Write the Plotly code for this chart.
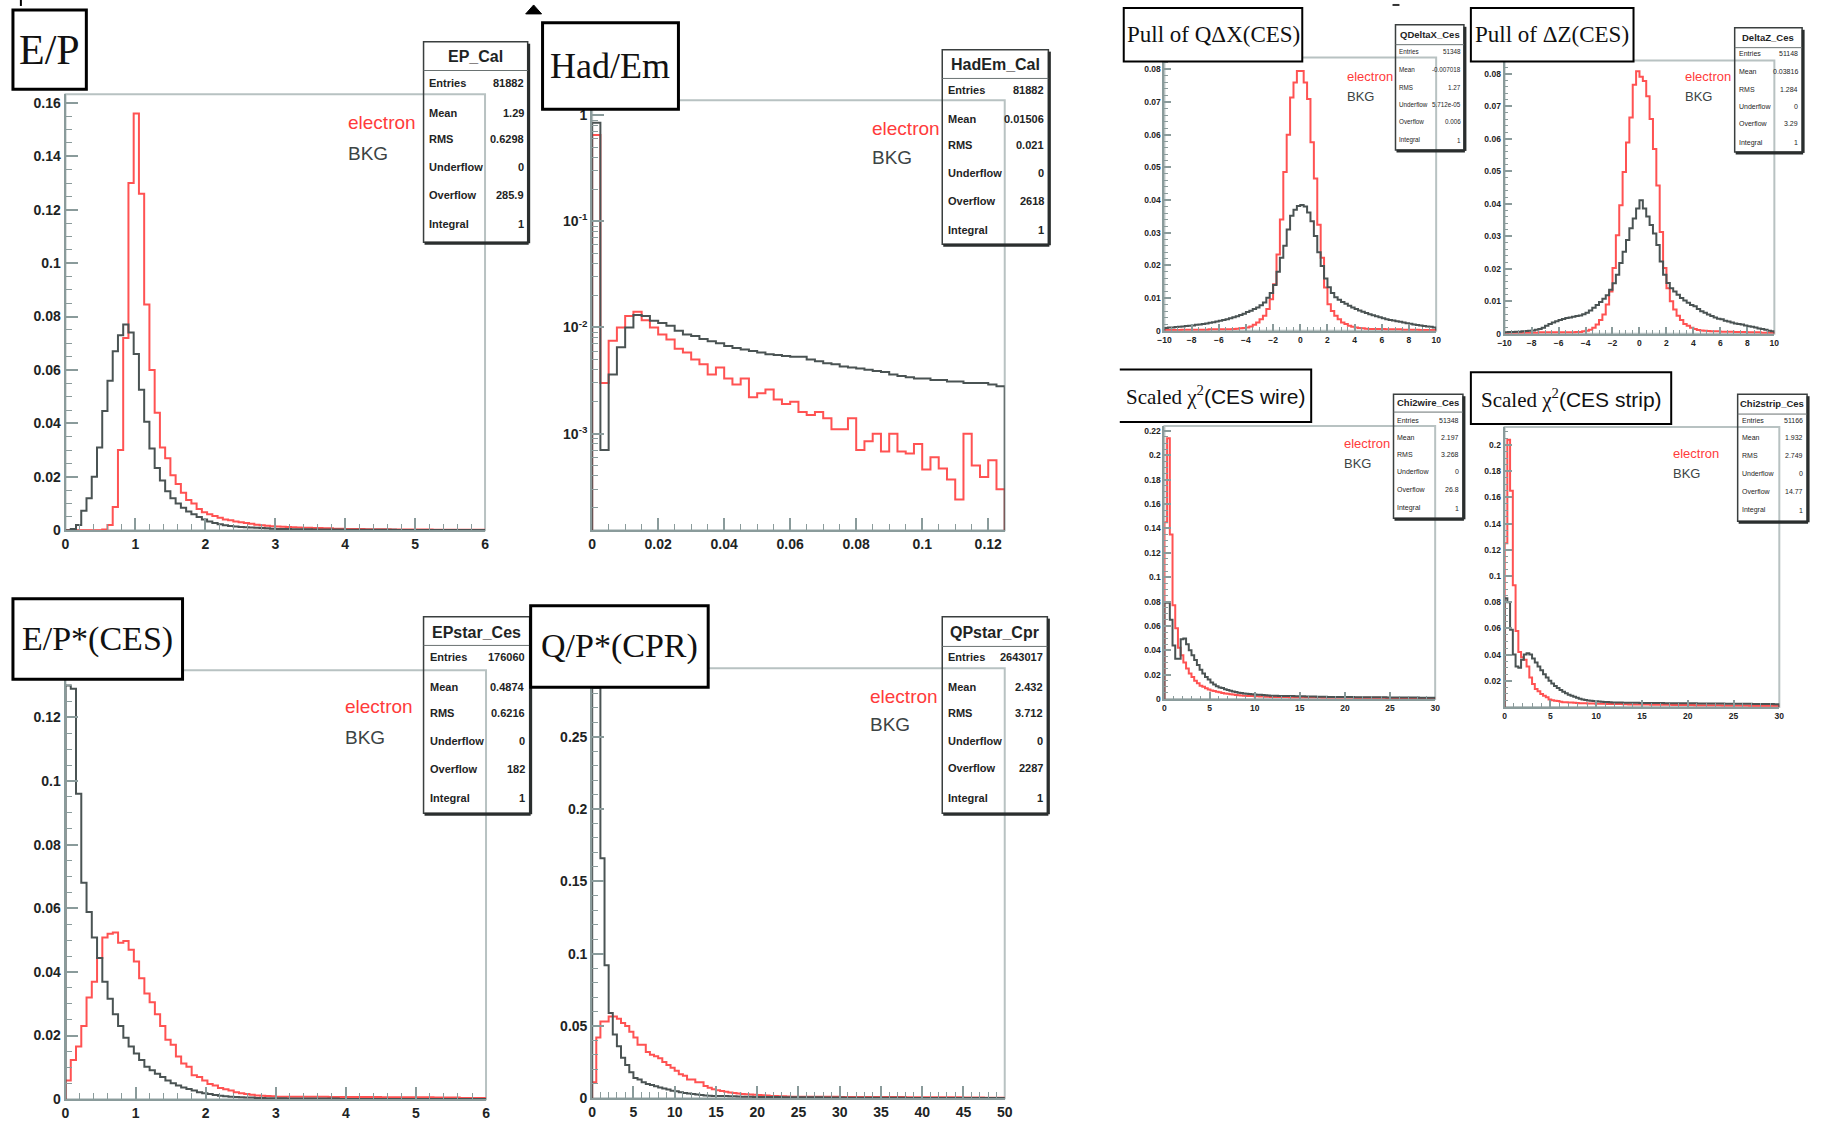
import numpy as np
import plotly.graph_objects as go

W, H = 1825, 1138

# ----------------------------- data -----------------------------
# E/P  (80 bins, 0..6)
ep_electron = [0, 0, 0, 0, 0, 0, 0, 0.0003, 0.002, 0.0087,
               0.030, 0.072, 0.130, 0.156, 0.126, 0.0845, 0.060, 0.044, 0.031, 0.027,
               0.0206, 0.0173, 0.014, 0.0113, 0.010, 0.008, 0.0067, 0.006, 0.0053, 0.0047,
               0.004, 0.0037, 0.0033, 0.003, 0.0027, 0.0024, 0.0021, 0.0019, 0.0017, 0.0015,
               0.0014, 0.0013, 0.0012, 0.0011, 0.001, 0.0009, 0.0009, 0.0008, 0.0008, 0.0007,
               0.0007, 0.0006, 0.0006, 0.0005, 0.0005, 0.0005, 0.0005, 0.0004, 0.0004, 0.0004,
               0.0004, 0.0004, 0.0003, 0.0003, 0.0003, 0.0003, 0.0003, 0.0003, 0.0003, 0.0003,
               0.0002, 0.0002, 0.0002, 0.0002, 0.0002, 0.0002, 0.0002, 0.0002, 0.0002, 0.0002]
ep_bkg = [0, 0.0005, 0.002, 0.0073, 0.012, 0.020, 0.031, 0.0446, 0.056, 0.067,
          0.073, 0.077, 0.074, 0.066, 0.0526, 0.0406, 0.0306, 0.0233, 0.0186, 0.0146,
          0.012, 0.010, 0.0084, 0.007, 0.006, 0.005, 0.004, 0.0033, 0.0027, 0.0022,
          0.0019, 0.0016, 0.0014, 0.0012, 0.0011, 0.001, 0.0009, 0.0008, 0.0007, 0.0006,
          0.0005, 0.0005, 0.0005, 0.0004, 0.0004, 0.0004, 0.0004, 0.0003, 0.0003, 0.0003,
          0.0003, 0.0003, 0.0003, 0.0002, 0.0002, 0.0002, 0.0002, 0.0002, 0.0002, 0.0002,
          0.0002, 0.0002, 0.0002, 0.0001, 0.0001, 0.0001, 0.0001, 0.0001, 0.0001, 0.0001,
          0.0001, 0.0001, 0.0001, 0.0001, 0.0001, 0.0001, 0.0001, 0.0001, 0.0001, 0.0001]

# Had/Em  (50 bins, 0..0.125, log y)
hadem_electron = [0.65, 0.003, 0.0075, 0.010, 0.0128, 0.0141, 0.0117, 0.0100, 0.0086, 0.0077,
                  0.0063, 0.0058, 0.0050, 0.0045, 0.0036, 0.0042, 0.0033, 0.0029, 0.0033, 0.0022,
                  0.0024, 0.0026, 0.0021, 0.0019, 0.0020, 0.0016, 0.0015, 0.0016, 0.0014, 0.0011,
                  0.0011, 0.0014, 0.0007, 0.00085, 0.0010, 0.00068, 0.0010, 0.00068, 0.00065, 0.0008,
                  0.00046, 0.0006, 0.00047, 0.00037, 0.00024, 0.0010, 0.0005, 0.00039, 0.00056, 0.0003]
hadem_bkg = [0.85, 0.0007, 0.0036, 0.0065, 0.010, 0.0131, 0.0128, 0.0116, 0.011, 0.0104,
             0.0093, 0.0086, 0.0083, 0.0078, 0.0074, 0.0071, 0.0067, 0.0064, 0.0062, 0.0060,
             0.0058, 0.0056, 0.0055, 0.0054, 0.0053, 0.0053, 0.0050, 0.0048, 0.0046, 0.0045,
             0.0043, 0.0042, 0.0041, 0.0040, 0.0039, 0.0038, 0.0036, 0.0035, 0.0034, 0.0033,
             0.0033, 0.0032, 0.0032, 0.0031, 0.0031, 0.0030, 0.0030, 0.0030, 0.0029, 0.0028]

# E/P*(CES)  (80 bins, 0..6)
epstar_electron = [0.0059, 0.0123, 0.0166, 0.023, 0.032, 0.0369, 0.0444, 0.0508, 0.052, 0.0524,
                   0.0492, 0.0497, 0.047, 0.0433, 0.038, 0.0332, 0.0305, 0.0267, 0.023, 0.0187,
                   0.0171, 0.0134, 0.0112, 0.0102, 0.0075, 0.007, 0.0059, 0.0048, 0.0043, 0.0035,
                   0.0031, 0.0027, 0.0022, 0.0019, 0.0016, 0.0014, 0.0012, 0.0011, 0.001, 0.0009,
                   0.0008, 0.0008, 0.0008, 0.0008, 0.0008, 0.0008, 0.0008, 0.0008, 0.0008, 0.0008,
                   0.0007, 0.0007, 0.0007, 0.0007, 0.0007, 0.0007, 0.0007, 0.0007, 0.0007, 0.0007,
                   0.0006, 0.0006, 0.0006, 0.0006, 0.0006, 0.0006, 0.0006, 0.0006, 0.0006, 0.0006,
                   0.0005, 0.0005, 0.0005, 0.0005, 0.0005, 0.0004, 0.0004, 0.0004, 0.0004, 0.0004]
epstar_bkg = [0.13, 0.129, 0.096, 0.068, 0.0588, 0.0508, 0.0444, 0.0369, 0.0316, 0.0267,
              0.023, 0.0193, 0.0166, 0.0144, 0.0123, 0.0102, 0.0091, 0.008, 0.007, 0.0059,
              0.005, 0.0043, 0.0037, 0.0032, 0.0027, 0.0022, 0.0019, 0.0016, 0.0013, 0.0011,
              0.0009, 0.0008, 0.0007, 0.0006, 0.0005, 0.0005, 0.0004, 0.0004, 0.0003, 0.0003,
              0.0003, 0.0003, 0.0002, 0.0002, 0.0002, 0.0002, 0.0002, 0.0002, 0.0002, 0.0002,
              0.0002, 0.0002, 0.0001, 0.0001, 0.0001, 0.0001, 0.0001, 0.0001, 0.0001, 0.0001,
              0.0001, 0.0001, 0.0001, 0.0001, 0.0001, 0.0001, 0.0001, 0.0001, 0.0001, 0.0001,
              0.0001, 0.0001, 0.0001, 0.0001, 0.0001, 0.0001, 0.0001, 0.0001, 0.0001, 0.0001]

# Q/P*(CPR)  (100 bins, 0..50)
qp_electron = [0.011, 0.042, 0.053, 0.053, 0.0565, 0.0565, 0.055, 0.052, 0.050, 0.046,
               0.042, 0.037, 0.037, 0.032, 0.030, 0.029, 0.0276, 0.025, 0.023, 0.021,
               0.019, 0.0165, 0.0156, 0.013, 0.013, 0.011, 0.011, 0.0085, 0.0072, 0.0062,
               0.0055, 0.005, 0.0045, 0.004, 0.0036, 0.0033, 0.003, 0.0028, 0.0026, 0.0024,
               0.0022, 0.002, 0.0018, 0.0016, 0.0015, 0.0014, 0.0013, 0.0012, 0.0011, 0.0011,
               0.001, 0.001, 0.001, 0.001, 0.001, 0.001, 0.001, 0.001, 0.001, 0.001,
               0.0009, 0.0009, 0.0009, 0.0009, 0.0009, 0.0009, 0.0009, 0.0009, 0.0008, 0.0008,
               0.0008, 0.0008, 0.0008, 0.0008, 0.0008, 0.0008, 0.0007, 0.0007, 0.0007, 0.0007,
               0.0007, 0.0007, 0.0007, 0.0007, 0.0006, 0.0006, 0.0006, 0.0006, 0.0006, 0.0006,
               0.0005, 0.0005, 0.0005, 0.0005, 0.0005, 0.0004, 0.0004, 0.0004, 0.0004, 0.0004]
qp_bkg = [0.284, 0.284, 0.166, 0.092, 0.059, 0.044, 0.036, 0.028, 0.023, 0.018,
          0.014, 0.013, 0.011, 0.0098, 0.0092, 0.0082, 0.0074, 0.0068, 0.006, 0.0052,
          0.0048, 0.0042, 0.0037, 0.0032, 0.0029, 0.0026, 0.0022, 0.0019, 0.0017, 0.0016,
          0.0015, 0.0016, 0.0015, 0.0014, 0.0013, 0.0012, 0.0011, 0.001, 0.001, 0.0009,
          0.0009, 0.0008, 0.0008, 0.0008, 0.0008, 0.0008, 0.0007, 0.0007, 0.0007, 0.0007,
          0.0007, 0.0006, 0.0006, 0.0006, 0.0006, 0.0006, 0.0005, 0.0005, 0.0005, 0.0005,
          0.0005, 0.0004, 0.0004, 0.0004, 0.0004, 0.0004, 0.0003, 0.0003, 0.0003, 0.0003,
          0.0003, 0.0003, 0.0003, 0.0003, 0.0003, 0.0003, 0.0002, 0.0002, 0.0002, 0.0002,
          0.0002, 0.0002, 0.0002, 0.0002, 0.0002, 0.0002, 0.0001, 0.0001, 0.0001, 0.0001,
          0.0001, 0.0001, 0.0001, 0.0001, 0.0001, 0.0001, 0.0001, 0.0001, 0.0001, 0.0001]

# Pull of Q dX (CES)  (80 bins, -10..10)
qdx_electron = [0.0002, 0.0002, 0.0002, 0.0002, 0.0002, 0.0003, 0.0003, 0.0003, 0.0003, 0.0003,
                0.0003, 0.0003, 0.0003, 0.0004, 0.0004, 0.0004, 0.0004, 0.0004, 0.0004, 0.0004,
                0.0005, 0.0006, 0.0007, 0.0008, 0.001, 0.0013, 0.0018, 0.0025, 0.0035, 0.0046,
                0.0066, 0.0096, 0.0142, 0.0233, 0.034, 0.0486, 0.060, 0.0714, 0.076, 0.0795,
                0.0795, 0.076, 0.0709, 0.0577, 0.0466, 0.0324, 0.0223, 0.0132, 0.0081, 0.006,
                0.0046, 0.0035, 0.0025, 0.002, 0.0015, 0.0012, 0.001, 0.0008, 0.0007, 0.0006,
                0.0005, 0.0005, 0.0005, 0.0005, 0.0005, 0.0004, 0.0004, 0.0004, 0.0004, 0.0004,
                0.0003, 0.0003, 0.0003, 0.0003, 0.0003, 0.0002, 0.0002, 0.0002, 0.0002, 0.0002]
qdx_bkg = [0.0008, 0.001, 0.001, 0.0011, 0.0012, 0.0013, 0.0014, 0.0015, 0.0016, 0.0018,
           0.0019, 0.002, 0.0022, 0.0024, 0.0026, 0.0028, 0.003, 0.0033, 0.0035, 0.0038,
           0.0041, 0.0044, 0.0048, 0.0052, 0.0057, 0.0061, 0.0066, 0.0071, 0.0078, 0.0086,
           0.0101, 0.0115, 0.014, 0.018, 0.0223, 0.026, 0.031, 0.0352, 0.037, 0.0382,
           0.0385, 0.038, 0.0362, 0.0335, 0.029, 0.024, 0.0198, 0.016, 0.0133, 0.0115,
           0.0102, 0.0095, 0.0088, 0.0082, 0.0076, 0.0071, 0.0066, 0.0062, 0.0058, 0.0054,
           0.005, 0.0047, 0.0044, 0.0041, 0.0038, 0.0035, 0.0033, 0.0031, 0.0029, 0.0027,
           0.0025, 0.0023, 0.0021, 0.0019, 0.0017, 0.0016, 0.0014, 0.0013, 0.0012, 0.001]

# Pull of dZ (CES)  (80 bins, -10..10)
dz_electron = [0.0003, 0.0003, 0.0003, 0.0003, 0.0003, 0.0003, 0.0003, 0.0003, 0.0003, 0.0003,
               0.0004, 0.0004, 0.0004, 0.0004, 0.0004, 0.0004, 0.0004, 0.0004, 0.0004, 0.0004,
               0.0004, 0.0005, 0.0005, 0.0007, 0.0009, 0.0012, 0.0018, 0.0028, 0.0042, 0.0059,
               0.009, 0.013, 0.0202, 0.0303, 0.0395, 0.0497, 0.0588, 0.0665, 0.0766, 0.0807,
               0.079, 0.0777, 0.073, 0.066, 0.0568, 0.0456, 0.0313, 0.0202, 0.014, 0.01,
               0.0074, 0.0055, 0.0042, 0.003, 0.0024, 0.0018, 0.0014, 0.0011, 0.001, 0.0009,
               0.0008, 0.0007, 0.0007, 0.0007, 0.0006, 0.0006, 0.0006, 0.0006, 0.0005, 0.0005,
               0.0005, 0.0005, 0.0004, 0.0004, 0.0004, 0.0004, 0.0003, 0.0003, 0.0003, 0.0003]
dz_bkg = [0.0004, 0.0005, 0.0005, 0.0006, 0.0006, 0.0007, 0.0008, 0.0009, 0.001, 0.0012,
          0.0014, 0.0018, 0.0024, 0.003, 0.0034, 0.0038, 0.0042, 0.0045, 0.0048, 0.005,
          0.0052, 0.0054, 0.0056, 0.006, 0.0064, 0.0071, 0.008, 0.0088, 0.0097, 0.0107,
          0.0118, 0.0135, 0.0155, 0.0181, 0.0217, 0.0252, 0.0288, 0.0324, 0.0354, 0.0385,
          0.041, 0.0385, 0.036, 0.0334, 0.0308, 0.0273, 0.0222, 0.0181, 0.0156, 0.014,
          0.013, 0.012, 0.011, 0.0102, 0.0095, 0.0088, 0.0084, 0.0076, 0.0069, 0.0064,
          0.0059, 0.0054, 0.005, 0.0046, 0.0044, 0.004, 0.0037, 0.0034, 0.0031, 0.003,
          0.0028, 0.0025, 0.0023, 0.0021, 0.0019, 0.0016, 0.0014, 0.0012, 0.0009, 0.0007]

# Scaled chi2 (CES wire)  (100 bins, 0..30)
wire_electron = [0.145, 0.214, 0.135, 0.077, 0.058, 0.042, 0.036, 0.030, 0.025, 0.021,
                 0.018, 0.015, 0.013, 0.011, 0.010, 0.0088, 0.0078, 0.007, 0.0065, 0.006,
                 0.0055, 0.005, 0.0046, 0.0043, 0.004, 0.0037, 0.0034, 0.0032, 0.003, 0.0028,
                 0.0026, 0.0025, 0.0024, 0.0023, 0.0022, 0.0021, 0.002, 0.0019, 0.0018, 0.0017,
                 0.0016, 0.0016, 0.0016, 0.0016, 0.0016, 0.0016, 0.0015, 0.0015, 0.0015, 0.0015,
                 0.0015, 0.0015, 0.0014, 0.0014, 0.0014, 0.0014, 0.0014, 0.0014, 0.0013, 0.0013,
                 0.0013, 0.0013, 0.0013, 0.0013, 0.0012, 0.0012, 0.0012, 0.0012, 0.0012, 0.0012,
                 0.0011, 0.0011, 0.0011, 0.0011, 0.0011, 0.0011, 0.001, 0.001, 0.001, 0.001,
                 0.001, 0.001, 0.0009, 0.0009, 0.0009, 0.0009, 0.0009, 0.0009, 0.0008, 0.0008,
                 0.0008, 0.0008, 0.0008, 0.0008, 0.0007, 0.0007, 0.0007, 0.0006, 0.0006, 0.0006]
wire_bkg = [0.079, 0.079, 0.065, 0.044, 0.033, 0.033, 0.049, 0.0497, 0.045, 0.040,
            0.036, 0.032, 0.028, 0.024, 0.021, 0.018, 0.016, 0.0135, 0.012, 0.0105,
            0.0095, 0.009, 0.008, 0.0075, 0.0068, 0.0062, 0.0057, 0.0052, 0.0049, 0.0046,
            0.0043, 0.0041, 0.0039, 0.0037, 0.0036, 0.0035, 0.0033, 0.0031, 0.003, 0.0028,
            0.0027, 0.0027, 0.0026, 0.0026, 0.0025, 0.0025, 0.0024, 0.0024, 0.0023, 0.0023,
            0.0022, 0.0022, 0.0021, 0.0021, 0.002, 0.002, 0.0019, 0.0019, 0.0018, 0.0018,
            0.0017, 0.0017, 0.0016, 0.0016, 0.0016, 0.0016, 0.0016, 0.0016, 0.0016, 0.0016,
            0.0015, 0.0015, 0.0015, 0.0015, 0.0015, 0.0015, 0.0014, 0.0014, 0.0014, 0.0014,
            0.0014, 0.0014, 0.0013, 0.0013, 0.0013, 0.0013, 0.0013, 0.0013, 0.0012, 0.0012,
            0.0012, 0.0012, 0.0012, 0.0012, 0.0011, 0.0011, 0.0011, 0.001, 0.001, 0.001]

# Scaled chi2 (CES strip)  (100 bins, 0..30)
strip_electron = [0.125, 0.204, 0.165, 0.093, 0.058, 0.042, 0.038, 0.036, 0.031, 0.0225,
                  0.0175, 0.0137, 0.012, 0.0099, 0.0085, 0.0074, 0.0058, 0.0052, 0.0048, 0.0045,
                  0.004, 0.0037, 0.0036, 0.0035, 0.0034, 0.0033, 0.003, 0.0029, 0.0028, 0.0028,
                  0.0027, 0.0027, 0.0026, 0.0025, 0.0025, 0.0024, 0.0024, 0.0023, 0.0023, 0.0023,
                  0.0022, 0.0022, 0.0022, 0.0021, 0.0021, 0.002, 0.002, 0.002, 0.002, 0.0019,
                  0.0019, 0.0019, 0.0019, 0.0018, 0.0018, 0.0018, 0.0018, 0.0017, 0.0017, 0.0017,
                  0.0017, 0.0016, 0.0016, 0.0016, 0.0016, 0.0015, 0.0015, 0.0015, 0.0015, 0.0014,
                  0.0014, 0.0014, 0.0014, 0.0014, 0.0013, 0.0013, 0.0013, 0.0013, 0.0013, 0.0012,
                  0.0012, 0.0012, 0.0012, 0.0012, 0.0011, 0.0011, 0.0011, 0.0011, 0.0011, 0.001,
                  0.001, 0.001, 0.001, 0.001, 0.0009, 0.0009, 0.0009, 0.0009, 0.0009, 0.0009]
strip_bkg = [0.083, 0.080, 0.059, 0.040, 0.031, 0.030, 0.036, 0.040, 0.041, 0.040,
             0.037, 0.034, 0.031, 0.028, 0.025, 0.0225, 0.020, 0.018, 0.016, 0.0145,
             0.013, 0.0117, 0.0105, 0.0093, 0.0085, 0.0078, 0.007, 0.0063, 0.0058, 0.0054,
             0.005, 0.0048, 0.0046, 0.0044, 0.0042, 0.004, 0.0039, 0.0038, 0.0036, 0.0035,
             0.0034, 0.0034, 0.0034, 0.0033, 0.0033, 0.0033, 0.0032, 0.0032, 0.0032, 0.0031,
             0.0031, 0.0031, 0.0031, 0.003, 0.003, 0.003, 0.003, 0.003, 0.0029, 0.0029,
             0.0029, 0.0029, 0.0029, 0.0029, 0.0028, 0.0028, 0.0028, 0.0028, 0.0028, 0.0028,
             0.0027, 0.0027, 0.0027, 0.0027, 0.0027, 0.0026, 0.0026, 0.0026, 0.0026, 0.0026,
             0.0025, 0.0025, 0.0025, 0.0025, 0.0025, 0.0024, 0.0024, 0.0024, 0.0024, 0.0024,
             0.0023, 0.0023, 0.0023, 0.0023, 0.0023, 0.0022, 0.0022, 0.0022, 0.0021, 0.0021]

stat_labels = ["Entries", "Mean", "RMS", "Underflow", "Overflow", "Integral"]
ep_stats = ["81882", "1.29", "0.6298", "0", "285.9", "1"]
hadem_stats = ["81882", "0.01506", "0.021", "0", "2618", "1"]
epstar_stats = ["176060", "0.4874", "0.6216", "0", "182", "1"]
qp_stats = ["2643017", "2.432", "3.712", "0", "2287", "1"]
qdx_stats = ["51348", "-0.007018", "1.27", "5.712e-05", "0.006", "1"]
dz_stats = ["51148", "0.03816", "1.284", "0", "3.29", "1"]
wire_stats = ["51348", "2.197", "3.268", "0", "26.8", "1"]
strip_stats = ["51166", "1.932", "2.749", "0", "14.77", "1"]

hadem_tickvals = [0.001, 0.01, 0.1, 1]
hadem_ticktext = ["10<sup>-3</sup>", "10<sup>-2</sup>", "10<sup>-1</sup>", "1"]
strip_ytickvals = [0.02, 0.04, 0.06, 0.08, 0.1, 0.12, 0.14, 0.16, 0.18, 0.2]

# ----------------------------- style -----------------------------
RED = "#ff5252"
GRAY = "#4a5353"
AXIS = "#8a9b9b"
FRAME = "#b8c2c2"
TXT = "#1e2424"
SANS = "Liberation Sans, Arial, Helvetica, sans-serif"
SERIF = "Liberation Serif, Times New Roman, serif"


def PX(x):
    return x / W


def PY(y):
    return 1 - y / H


panels = [
    dict(ele=ep_electron, bkg=ep_bkg, lo=0, bw=0.075, frame=(59, 482, 95, 534),
         xr=[0, 6], yr=[0, 0.1632], xdt=1, xmn=0.2, ydt=0.02, ymn=0.005, fs=14, tl=12,
         title="E/P", tbox=(6, 80, 10, 90), tfs=42, tlw=3,
         sname="EP_Cal", svals=ep_stats, sbox=(420, 525, 42, 244), sty=57, ssep=71,
         srows=[84, 114, 140, 168, 196, 226], slab=423, sval=523, sfs=11, stfs=16, sbold=True,
         leg=(342, 123, 155), lfs=19),
    dict(ele=hadem_electron, bkg=hadem_bkg, lo=0, bw=0.0025, frame=(590, 1006, 101, 534),
         xr=[0, 0.125], yr=[-3.91, 0.14], log=True, xdt=0.02, xmn=0.005, fs=14, tl=12,
         title="Had/Em", tbox=(540, 677, 23, 110), tfs=36, tlw=3,
         sname="HadEm_Cal", svals=hadem_stats, sbox=(943, 1050, 50, 246), sty=65, ssep=79,
         srows=[91, 120, 146, 174, 202, 232], slab=947, sval=1048, sfs=11, stfs=16, sbold=True,
         leg=(870, 129, 159), lfs=19),
    dict(ele=epstar_electron, bkg=epstar_bkg, lo=0, bw=0.075, frame=(59, 483, 675, 1107),
         xr=[0, 6], yr=[0, 0.1348], xdt=1, xmn=0.2, ydt=0.02, ymn=0.005, fs=14, tl=12,
         title="E/P*(CES)", tbox=(6, 177, 603, 684), tfs=34, tlw=3,
         sname="EPstar_Ces", svals=epstar_stats, sbox=(420, 527, 621, 819), sty=637, ssep=650,
         srows=[662, 692, 718, 746, 774, 804], slab=424, sval=524, sfs=11, stfs=16, sbold=True,
         leg=(339, 712, 743), lfs=19),
    dict(ele=qp_electron, bkg=qp_bkg, lo=0, bw=0.5, frame=(590, 1006, 673, 1106),
         xr=[0, 50], yr=[0, 0.2974], xdt=5, xmn=1, ydt=0.05, ymn=0.01, fs=14, tl=12,
         title="Q/P*(CPR)", tbox=(528, 707, 610, 692), tfs=34, tlw=3,
         sname="QPstar_Cpr", svals=qp_stats, sbox=(943, 1049, 621, 819), sty=637, ssep=651,
         srows=[662, 692, 718, 746, 773, 804], slab=947, sval=1047, sfs=11, stfs=16, sbold=True,
         leg=(868, 701, 730), lfs=19),
    dict(ele=qdx_electron, bkg=qdx_bkg, lo=-10, bw=0.25, frame=(1167, 1441, 58, 333),
         xr=[-10, 10], yr=[0, 0.0836], xdt=2, xmn=0.5, ydt=0.01, ymn=0.002, fs=8.5, tl=7,
         title="Pull of QΔX(CES)", tbox=(1126, 1306, 8, 62), tfs=23, tlw=2,
         sname="QDeltaX_Ces", svals=qdx_stats, sbox=(1400, 1469, 25, 151), sty=35, ssep=45,
         srows=[52, 70, 88, 105, 122, 141], slab=1402, sval=1468, sfs=6.3, stfs=9.5,
         leg=(1349, 77, 97), lfs=13),
    dict(ele=dz_electron, bkg=dz_bkg, lo=-10, bw=0.25, frame=(1510, 1782, 61, 336),
         xr=[-10, 10], yr=[0, 0.084], xdt=2, xmn=0.5, ydt=0.01, ymn=0.002, fs=8.5, tl=7,
         title="Pull of ΔZ(CES)", tbox=(1476, 1640, 8, 62), tfs=23, tlw=2,
         sname="DeltaZ_Ces", svals=dz_stats, sbox=(1742, 1810, 28, 153), sty=38, ssep=48,
         srows=[54, 72, 90, 107, 124, 144], slab=1744, sval=1808, sfs=7, stfs=9.5,
         leg=(1690, 77, 97), lfs=13),
    dict(ele=wire_electron, bkg=wire_bkg, lo=0, bw=0.3, frame=(1167, 1440, 429, 704),
         xr=[0, 30], yr=[0, 0.224], xdt=5, xmn=1, ydt=0.02, ymn=0.005, fs=8.5, tl=7,
         title="Scaled χ<sup>2</sup><span style='font-family:Liberation Sans, Arial, sans-serif'>(CES wire)</span>",
         tbox=(1122, 1315, 372, 425), tfs=21, tlw=2, openleft=True,
         sname="Chi2wire_Ces", svals=wire_stats, sbox=(1398, 1468, 397, 522), sty=405, ssep=415,
         srows=[423, 441, 458, 475, 493, 512], slab=1400, sval=1466, sfs=7, stfs=9.5,
         leg=(1346, 447, 467), lfs=13),
    dict(ele=strip_electron, bkg=strip_bkg, lo=0, bw=0.3, frame=(1510, 1787, 430, 712),
         xr=[0, 30], yr=[0, 0.2137], xdt=5, xmn=1, ydt=0.02, ymn=0.005, fs=8.5, tl=7,
         yticks=strip_ytickvals,
         title="Scaled χ<sup>2</sup><span style='font-family:Liberation Sans, Arial, sans-serif'>(CES strip)</span>",
         tbox=(1476, 1678, 375, 427), tfs=21, tlw=2,
         sname="Chi2strip_Ces", svals=strip_stats, sbox=(1745, 1815, 397, 525), sty=406, ssep=417,
         srows=[423, 441, 459, 477, 495, 514], slab=1747, sval=1813, sfs=7, stfs=9.5,
         leg=(1678, 457, 477), lfs=13),
]


def hist_xy(vals, lo, bw, log=False):
    n = len(vals)
    edges = lo + bw * np.arange(n + 1)
    floor = 1e-7 if log else 0.0
    v = np.asarray(vals, dtype=float)
    x = np.concatenate([[edges[0]], edges, [edges[-1]]])
    y = np.concatenate([[floor], v, [v[-1]], [floor]])
    return x, y


fig = go.Figure()
layout = dict(width=W, height=H, margin=dict(l=0, r=0, t=0, b=0), autosize=False,
              paper_bgcolor="white", plot_bgcolor="white", showlegend=False)
shapes = []
annotations = []

for i, p in enumerate(panels, start=1):
    sx = "" if i == 1 else str(i)
    xa, ya = "x" + sx, "y" + sx
    l, r, t, b = p["frame"]
    log = p.get("log", False)

    for vals, col in ((p["ele"], RED), (p["bkg"], GRAY)):
        hx, hy = hist_xy(vals, p["lo"], p["bw"], log)
        fig.add_trace(go.Scatter(x=hx, y=hy, xaxis=xa, yaxis=ya, mode="lines",
                                 line=dict(color=col, width=2, shape="hv"),
                                 hoverinfo="skip", showlegend=False))

    tickfont = dict(family=SANS, size=p["fs"], color=TXT, weight="bold")
    common = dict(showgrid=False, zeroline=False, showline=True, linecolor=AXIS,
                  linewidth=2, ticks="inside", ticklen=p["tl"], tickwidth=1.5,
                  tickcolor=AXIS, tickfont=tickfont, fixedrange=True)
    layout["xaxis" + sx] = dict(domain=[PX(l), PX(r)], range=p["xr"], anchor=ya,
                                dtick=p["xdt"], tick0=p["xr"][0],
                                minor=dict(ticks="inside", ticklen=p["tl"] / 2, dtick=p["xmn"],
                                           tick0=p["xr"][0], tickcolor=AXIS, tickwidth=1,
                                           showgrid=False),
                                **common)
    ydict = dict(domain=[PY(b), PY(t)], range=p["yr"], anchor=xa, **common)
    if log:
        minor_vals = [m * 10.0 ** e for e in range(-4, 1) for m in range(2, 10)]
        ydict.update(type="log", tickmode="array", tickvals=hadem_tickvals,
                     ticktext=hadem_ticktext,
                     minor=dict(ticks="inside", ticklen=p["tl"] / 2, tickmode="array",
                                tickvals=minor_vals, tickcolor=AXIS, tickwidth=1,
                                showgrid=False))
    elif p.get("yticks"):
        ydict.update(tickmode="array", tickvals=p["yticks"],
                     minor=dict(ticks="inside", ticklen=p["tl"] / 2, dtick=p["ymn"], tick0=0,
                                tickcolor=AXIS, tickwidth=1, showgrid=False))
    else:
        ydict.update(dtick=p["ydt"], tick0=0,
                     minor=dict(ticks="inside", ticklen=p["tl"] / 2, dtick=p["ymn"], tick0=0,
                                tickcolor=AXIS, tickwidth=1, showgrid=False))
    layout["yaxis" + sx] = ydict

    # light frame (top / right)
    shapes.append(dict(type="rect", xref="paper", yref="paper", x0=PX(l), x1=PX(r),
                       y0=PY(b), y1=PY(t), line=dict(color=FRAME, width=2), layer="below"))

    # title box
    tx0, tx1, ty0, ty1 = p["tbox"]
    if p.get("openleft"):
        shapes.append(dict(type="rect", xref="paper", yref="paper", x0=PX(tx0), x1=PX(tx1),
                           y0=PY(ty1), y1=PY(ty0), fillcolor="white",
                           line=dict(width=0), layer="above"))
        path = f"M{PX(tx0)},{PY(ty0)} L{PX(tx1)},{PY(ty0)} L{PX(tx1)},{PY(ty1)} L{PX(tx0)},{PY(ty1)}"
        shapes.append(dict(type="path", xref="paper", yref="paper", path=path,
                           line=dict(color="black", width=p["tlw"]), layer="above"))
    else:
        shapes.append(dict(type="rect", xref="paper", yref="paper", x0=PX(tx0), x1=PX(tx1),
                           y0=PY(ty1), y1=PY(ty0), fillcolor="white",
                           line=dict(color="black", width=p["tlw"]), layer="above"))
    annotations.append(dict(xref="paper", yref="paper", x=PX((tx0 + tx1) / 2),
                            y=PY((ty0 + ty1) / 2), text=p["title"], showarrow=False,
                            xanchor="center", yanchor="middle",
                            font=dict(family=SERIF, size=p["tfs"], color="#111")))

    # stats box
    bx0, bx1, by0, by1 = p["sbox"]
    shapes.append(dict(type="rect", xref="paper", yref="paper", x0=PX(bx0), x1=PX(bx1),
                       y0=PY(by1), y1=PY(by0), line=dict(color="#3a3f3f", width=1.5),
                       layer="above"))
    shapes.append(dict(type="line", xref="paper", yref="paper", x0=PX(bx0 + 1), x1=PX(bx1 + 1),
                       y0=PY(by1 + 1), y1=PY(by1 + 1), line=dict(color="#2a2e2e", width=3),
                       layer="above"))
    shapes.append(dict(type="line", xref="paper", yref="paper", x0=PX(bx1 + 1), x1=PX(bx1 + 1),
                       y0=PY(by0 + 2), y1=PY(by1 + 1), line=dict(color="#2a2e2e", width=3),
                       layer="above"))
    shapes.append(dict(type="line", xref="paper", yref="paper", x0=PX(bx0), x1=PX(bx1),
                       y0=PY(p["ssep"]), y1=PY(p["ssep"]), line=dict(color="#6a7272", width=1),
                       layer="above"))
    sweight = "bold" if p.get("sbold") else "normal"
    annotations.append(dict(xref="paper", yref="paper", x=PX((bx0 + bx1) / 2), y=PY(p["sty"]),
                            text=p["sname"], showarrow=False, xanchor="center",
                            yanchor="middle",
                            font=dict(family=SANS, size=p["stfs"], color=TXT, weight="bold")))
    for lab, val, ry in zip(stat_labels, p["svals"], p["srows"]):
        annotations.append(dict(xref="paper", yref="paper", x=PX(p["slab"]), y=PY(ry),
                                text=lab, showarrow=False, xanchor="left", yanchor="middle",
                                font=dict(family=SANS, size=p["sfs"], color=TXT,
                                          weight=sweight)))
        annotations.append(dict(xref="paper", yref="paper", x=PX(p["sval"]), y=PY(ry),
                                text=val, showarrow=False, xanchor="right", yanchor="middle",
                                font=dict(family=SANS, size=p["sfs"], color=TXT,
                                          weight=sweight)))

    # legend text
    lx, ly1, ly2 = p["leg"]
    annotations.append(dict(xref="paper", yref="paper", x=PX(lx), y=PY(ly1), text="electron",
                            showarrow=False, xanchor="left", yanchor="middle",
                            font=dict(family=SANS, size=p["lfs"], color="#ff3b3b")))
    annotations.append(dict(xref="paper", yref="paper", x=PX(lx), y=PY(ly2), text="BKG",
                            showarrow=False, xanchor="left", yanchor="middle",
                            font=dict(family=SANS, size=p["lfs"], color="#3c4444")))

# small decorations seen in the original page
shapes.append(dict(type="path", xref="paper", yref="paper",
                   path=f"M{PX(523)},{PY(14)} L{PX(539)},{PY(14)} L{PX(531)},{PY(5)} Z",
                   fillcolor="black", line=dict(color="black", width=1), layer="above"))
shapes.append(dict(type="line", xref="paper", yref="paper", x0=PX(14), x1=PX(14),
                   y0=PY(0), y1=PY(6), line=dict(color="black", width=2), layer="above"))
shapes.append(dict(type="line", xref="paper", yref="paper", x0=PX(1397), x1=PX(1404),
                   y0=PY(5), y1=PY(5), line=dict(color="#333", width=2), layer="above"))

layout["shapes"] = shapes
layout["annotations"] = annotations
fig.update_layout(**layout)

page_fix = ("document.documentElement.style.margin='0';document.body.style.margin='0';"
            "document.body.style.padding='0';document.body.style.overflow='hidden';"
            "document.documentElement.style.overflow='hidden';")
fig.write_html("out.html", config={"responsive": False, "displayModeBar": False},
               post_script=page_fix)
